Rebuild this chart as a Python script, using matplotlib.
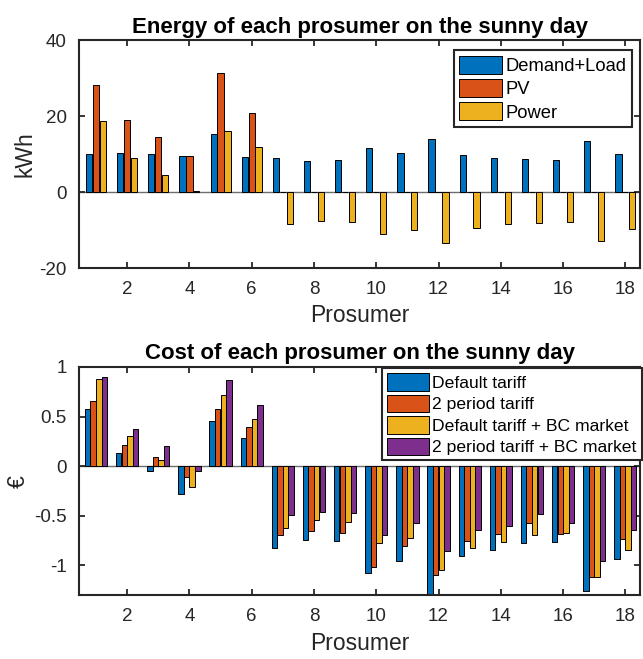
import numpy as np
import matplotlib
matplotlib.use('Agg')
import matplotlib.pyplot as plt

plt.rcParams['font.family'] = ['Liberation Sans', 'DejaVu Sans']
plt.rcParams['axes.unicode_minus'] = False

# Energy data (kWh) for the 18 prosumers
prosumers = np.arange(1, 19)
demand_load = [10.0, 10.3, 10.0, 9.6, 15.3, 9.2, 8.9, 8.1, 8.3, 11.5, 10.3, 13.9, 9.7, 8.9, 8.7, 8.3, 13.3, 10.0]
pv = [28.2, 18.9, 14.4, 9.6, 31.2, 20.8, 0, 0, 0, 0, 0, 0, 0, 0, 0, 0, 0, 0]
power = [18.6, 8.9, 4.5, 0.2, 16.1, 11.9, -8.5, -7.7, -8.0, -11.1, -9.9, -13.5, -9.4, -8.5, -8.2, -8.0, -12.9, -9.7]
energy_labels = ['Demand+Load', 'PV', 'Power']

# Cost data (euro)
default_tariff = [0.573, 0.138, -0.047, -0.28, 0.459, 0.287, -0.823, -0.745, -0.757, -1.076, -0.958, -1.35, -0.907, -0.843, -0.776, -0.766, -1.255, -0.938]
two_period = [0.658, 0.219, 0.094, -0.108, 0.573, 0.391, -0.691, -0.65, -0.671, -1.012, -0.799, -1.096, -0.749, -0.681, -0.573, -0.681, -1.12, -0.735]
default_bc = [0.880, 0.307, 0.061, -0.209, 0.722, 0.476, -0.621, -0.546, -0.563, -0.776, -0.722, -1.046, -0.823, -0.766, -0.695, -0.668, -1.12, -0.843]
two_period_bc = [0.900, 0.371, 0.199, -0.047, 0.870, 0.617, -0.489, -0.46, -0.47, -0.688, -0.573, -0.853, -0.641, -0.597, -0.479, -0.573, -0.958, -0.641]
cost_labels = ['Default tariff', '2 period tariff', 'Default tariff + BC market', '2 period tariff + BC market']

colors = ['#0072BD', '#D95319', '#EDB120', '#7E2F8E']
axis_color = '#262626'


def grouped_bars(ax, series, step, width):
    # matlab-like grouped bars, centred on each prosumer
    n = len(series)
    bars = []
    for i, values in enumerate(series):
        offset = (i - (n - 1) / 2) * step
        b = ax.bar(prosumers + offset, values, width, color=colors[i],
                   edgecolor='black', linewidth=0.7, zorder=2)
        bars.append(b)
    ax.axhline(0, color='#6e6e6e', linewidth=1.0, zorder=1)
    return bars


def style_axes(ax):
    for s in ax.spines.values():
        s.set_linewidth(1.5)
        s.set_color(axis_color)
    ax.tick_params(direction='in', top=True, right=True, length=4, width=1.3,
                   colors=axis_color, labelsize=13.5, pad=9)
    ax.set_xlim(0.47, 18.47)
    ax.set_xticks(np.arange(2, 19, 2))
    ax.set_xlabel('Prosumer', fontsize=16.5, color=axis_color, labelpad=5)


fig = plt.figure(figsize=(6.43, 6.59), dpi=100)
ax1 = fig.add_axes([0.1236, 0.5933, 0.8717, 0.346])
ax2 = fig.add_axes([0.1236, 0.0967, 0.8717, 0.3464])

# Energy plot
bars1 = grouped_bars(ax1, [demand_load, pv, power], 0.222, 0.2)
style_axes(ax1)
ax1.set_ylim(-20, 40)
ax1.set_yticks([-20, 0, 20, 40])
ax1.set_ylabel('kWh', fontsize=16.5, color=axis_color, labelpad=2)
ax1.set_title('Energy of each prosumer on the sunny day', fontsize=16, fontweight='bold', pad=5)
leg1 = ax1.legend(bars1, energy_labels, loc='upper right', bbox_to_anchor=(0.9824, 0.9241),
                  bbox_transform=fig.transFigure, fontsize=13.2, fancybox=False,
                  framealpha=1, edgecolor=axis_color, borderaxespad=0, borderpad=0.3,
                  handlelength=2.3, handleheight=1.15, handletextpad=0.2, labelspacing=0.22)
leg1.get_frame().set_linewidth(1.5)

# Cost plot
bars2 = grouped_bars(ax2, [default_tariff, two_period, default_bc, two_period_bc], 0.18, 0.175)
style_axes(ax2)
ax2.set_ylim(-1.3, 1.0)
ax2.set_yticks([-1, -0.5, 0, 0.5, 1])
ax2.set_yticklabels(['-1', '-0.5', '0', '0.5', '1'])
ax2.set_ylabel('€', fontsize=16.5, color=axis_color, labelpad=3)
ax2.set_title('Cost of each prosumer on the sunny day', fontsize=16, fontweight='bold', pad=6)
leg2 = ax2.legend(bars2, cost_labels, loc='upper right', bbox_to_anchor=(0.998, 0.4416),
                  bbox_transform=fig.transFigure, fontsize=12.6, fancybox=False,
                  framealpha=1, edgecolor=axis_color, borderaxespad=0, borderpad=0.3,
                  handlelength=2.4, handleheight=1.15, handletextpad=0.15, labelspacing=0.22)
leg2.get_frame().set_linewidth(1.5)

fig.savefig('out.png', dpi=100)
